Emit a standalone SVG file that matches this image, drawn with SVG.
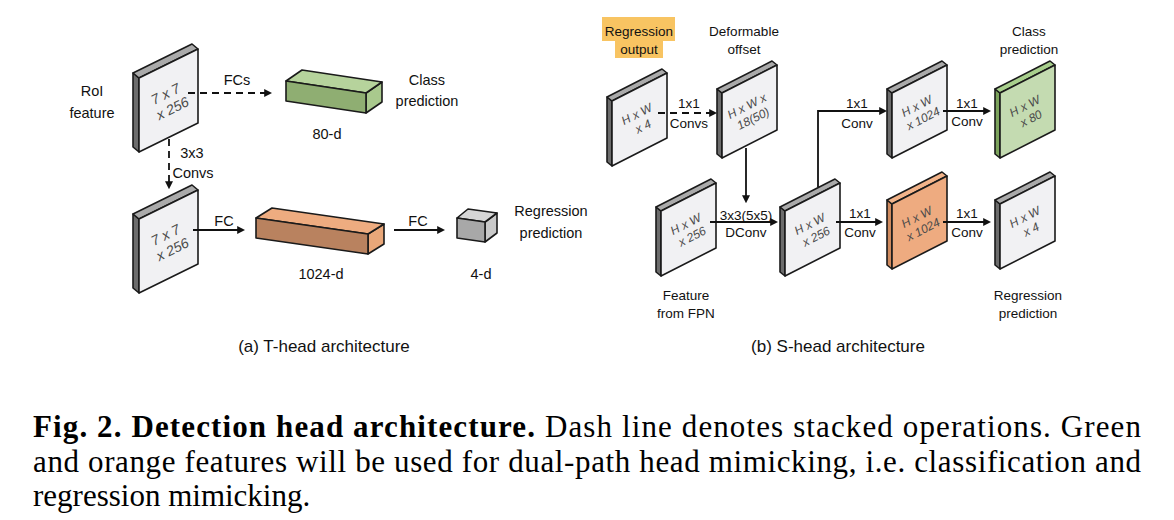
<svg xmlns="http://www.w3.org/2000/svg" width="1174" height="520" viewBox="0 0 1174 520">
<style>
.lbl{font-family:"Liberation Sans",Arial,sans-serif;font-size:14.5px;fill:#111;text-anchor:middle}
.sl{font-family:"Liberation Sans",Arial,sans-serif;font-size:13.5px;fill:#111;text-anchor:middle}
.cap{font-family:"Liberation Sans",Arial,sans-serif;font-size:17px;fill:#111;text-anchor:middle}
.pt{font-family:"Liberation Sans",Arial,sans-serif;font-style:italic;fill:#4a4a4a;text-anchor:middle}
.fig{font-family:"Liberation Serif","Times New Roman",serif;font-size:31px;fill:#000}
.e{stroke:#1a1a1a;stroke-width:1.6;stroke-linejoin:round}
.fw{fill:#f1f1f3}.sd{fill:#6c6c6c}.tp{fill:#aaaaaa}
.gf{fill:#c4dbb1}.gs{fill:#7ca35c}.gt{fill:#a8cf8c}
.of{fill:#eeab80}.os{fill:#cf8a5e}.ot{fill:#f3b48a}
.ln{fill:none;stroke:#111;stroke-width:1.8}
.dash{stroke-dasharray:7 5}
</style>
<defs>
<marker id="ah" viewBox="0 0 10 10" refX="1" refY="5" markerWidth="8" markerHeight="8" markerUnits="userSpaceOnUse" orient="auto"><path d="M0,0 L10,5 L0,10 z" fill="#111"/></marker>
</defs>
<rect width="1174" height="520" fill="#fff"/>

<!-- T-head -->
<g id="t_roi">
<polygon class="e sd" points="133,73 139,78 139,152 133,147"/>
<polygon class="e tp" points="133,73 192,44 198,49 139,78"/>
<polygon class="e fw" points="139,78 198,49 198,123 139,152"/>
<g transform="translate(169,101) rotate(-26)" class="pt" font-size="14"><text y="-3">7 x 7</text><text y="13">x 256</text></g>
<text class="lbl" x="92" y="96">RoI</text><text class="lbl" x="92" y="118">feature</text>
</g>
<g id="t_conv">
<polygon class="e sd" points="133,214 139,219 139,293 133,288"/>
<polygon class="e tp" points="133,214 192,185 198,190 139,219"/>
<polygon class="e fw" points="139,219 198,190 198,264 139,293"/>
<g transform="translate(169,242) rotate(-26)" class="pt" font-size="14"><text y="-3">7 x 7</text><text y="13">x 256</text></g>
</g>
<g id="t_class">
<polygon class="e" fill="#a9c98d" points="366,93 382,82 382,102 366,113"/>
<polygon class="e" fill="#b6d39c" points="286,81 302,70 382,82 366,93"/>
<polygon class="e" fill="#8fae72" points="286,81 366,93 366,113 286,101"/>
<text class="lbl" x="427" y="85">Class</text><text class="lbl" x="427" y="106">prediction</text>
<text class="lbl" x="327" y="139">80-d</text>
</g>
<g id="t_fc1024">
<polygon class="e" fill="#e9a779" points="368,234 384,224 384,244 368,254"/>
<polygon class="e" fill="#eeac80" points="256,218 272,208 384,224 368,234"/>
<polygon class="e" fill="#b9825f" points="256,218 368,234 368,254 256,238"/>
<text class="lbl" x="321" y="279">1024-d</text>
</g>
<g id="t_reg">
<polygon class="e" fill="#c9c9c9" points="485,222 497,213 497,233 485,242"/>
<polygon class="e" fill="#d6d6d6" points="457,218 468,209 497,213 485,222"/>
<polygon class="e" fill="#a8a8a8" points="457,218 485,222 485,242 457,238"/>
<text class="lbl" x="481" y="279">4-d</text>
<text class="lbl" x="551" y="216">Regression</text><text class="lbl" x="551" y="238">prediction</text>
</g>
<text class="cap" x="324" y="352">(a) T-head architecture</text>

<!-- S-head -->
<g id="s_regout">
<rect x="602" y="17" width="73" height="24" fill="#f8c462"/>
<rect x="615" y="40" width="48" height="18" fill="#f8c462"/>
<text class="sl" x="639" y="36">Regression</text><text class="sl" x="639" y="54">output</text>
<polygon class="e sd" points="607,97 612,101 612,166 607,162"/>
<polygon class="e tp" points="607,97 662,69 667,73 612,101"/>
<polygon class="e fw" points="612,101 667,73 667,138 612,166"/>
<g transform="translate(639.5,119.5) rotate(-27)" class="pt" font-size="12"><text y="-2">H x W</text><text y="12">x 4</text></g>
</g>
<g id="s_offset">
<text class="sl" x="744" y="36">Deformable</text><text class="sl" x="744" y="54">offset</text>
<polygon class="e sd" points="717,89 722,93 722,158 717,154"/>
<polygon class="e tp" points="717,89 772,61 777,65 722,93"/>
<polygon class="e fw" points="722,93 777,65 777,130 722,158"/>
<g transform="translate(749.5,111.5) rotate(-27)" class="pt" font-size="12"><text y="-2">H x W x</text><text y="12">18(50)</text></g>
</g>
<g id="s_fpn">
<polygon class="e sd" points="656,207 661,211 661,276 656,272"/>
<polygon class="e tp" points="656,207 711,179 716,183 661,211"/>
<polygon class="e fw" points="661,211 716,183 716,248 661,276"/>
<g transform="translate(688.5,229.5) rotate(-27)" class="pt" font-size="12"><text y="-2">H x W</text><text y="12">x 256</text></g>
<text class="sl" x="686" y="300">Feature</text><text class="sl" x="686" y="318">from FPN</text>
</g>
<g id="s_mid">
<polygon class="e sd" points="780,207 785,211 785,276 780,272"/>
<polygon class="e tp" points="780,207 835,179 840,183 785,211"/>
<polygon class="e fw" points="785,211 840,183 840,248 785,276"/>
<g transform="translate(812.5,229.5) rotate(-27)" class="pt" font-size="12"><text y="-2">H x W</text><text y="12">x 256</text></g>
</g>
<g id="s_cls1024">
<polygon class="e sd" points="887,89 892,93 892,158 887,154"/>
<polygon class="e tp" points="887,89 942,61 947,65 892,93"/>
<polygon class="e fw" points="892,93 947,65 947,130 892,158"/>
<g transform="translate(919.5,111.5) rotate(-27)" class="pt" font-size="12"><text y="-2">H x W</text><text y="12">x 1024</text></g>
</g>
<g id="s_cls80">
<text class="sl" x="1029" y="36">Class</text><text class="sl" x="1029" y="54">prediction</text>
<polygon class="e gs" points="995,89 1000,93 1000,158 995,154"/>
<polygon class="e gt" points="995,89 1050,61 1055,65 1000,93"/>
<polygon class="e gf" points="1000,93 1055,65 1055,130 1000,158"/>
<g transform="translate(1027.5,111.5) rotate(-27)" class="pt" font-size="12"><text y="-2">H x W</text><text y="12">x 80</text></g>
</g>
<g id="s_reg1024">
<polygon class="e os" points="887,200 892,204 892,269 887,265"/>
<polygon class="e ot" points="887,200 942,172 947,176 892,204"/>
<polygon class="e of" points="892,204 947,176 947,241 892,269"/>
<g transform="translate(919.5,222.5) rotate(-27)" class="pt" font-size="12"><text y="-2">H x W</text><text y="12">x 1024</text></g>
</g>
<g id="s_reg4">
<polygon class="e sd" points="995,200 1000,204 1000,269 995,265"/>
<polygon class="e tp" points="995,200 1050,172 1055,176 1000,204"/>
<polygon class="e fw" points="1000,204 1055,176 1055,241 1000,269"/>
<g transform="translate(1027.5,222.5) rotate(-27)" class="pt" font-size="12"><text y="-2">H x W</text><text y="12">x 4</text></g>
<text class="sl" x="1028" y="300">Regression</text><text class="sl" x="1028" y="318">prediction</text>
</g>
<text class="cap" x="838" y="352">(b) S-head architecture</text>

<g id="connectors">
<path class="ln dash" d="M188,93 H265" marker-end="url(#ah)"/>
<path class="ln dash" d="M169,139 V182" marker-end="url(#ah)"/>
<path class="ln" d="M193,230 H238" marker-end="url(#ah)"/>
<path class="ln" d="M394,230 H438" marker-end="url(#ah)"/>
<path class="ln dash" stroke-width="1.6" d="M658,113 H710" marker-end="url(#ah)"/>
<path class="ln" stroke-width="1.4" d="M746,148 V196" marker-end="url(#ah)"/>
<path class="ln" stroke-width="1.4" d="M710,222 H771" marker-end="url(#ah)"/>
<path class="ln" stroke-width="1.4" d="M818,187 V111 H880" marker-end="url(#ah)"/>
<path class="ln" stroke-width="1.4" d="M836,222 H876" marker-end="url(#ah)"/>
<path class="ln" stroke-width="1.4" d="M943,111 H984" marker-end="url(#ah)"/>
<path class="ln" stroke-width="1.4" d="M943,222 H984" marker-end="url(#ah)"/>
<text class="lbl" x="237" y="85">FCs</text>
<text class="lbl" x="192" y="158">3x3</text>
<text class="lbl" x="193" y="178">Convs</text>
<text class="lbl" x="224" y="226">FC</text>
<text class="lbl" x="418" y="226">FC</text>
<text class="sl" x="689" y="108">1x1</text><text class="sl" x="689" y="128">Convs</text>
<text class="sl" x="746" y="220" font-size="12.5">3x3(5x5)</text><text class="sl" x="746" y="237">DConv</text>
<text class="sl" x="857" y="108">1x1</text><text class="sl" x="857" y="128">Conv</text>
<text class="sl" x="860" y="218">1x1</text><text class="sl" x="860" y="237">Conv</text>
<text class="sl" x="967" y="108">1x1</text><text class="sl" x="967" y="126">Conv</text>
<text class="sl" x="967" y="218">1x1</text><text class="sl" x="967" y="237">Conv</text>
</g>

<g id="caption">
<text class="fig" x="33" y="437" textLength="1108" lengthAdjust="spacing"><tspan font-weight="bold">Fig. 2. Detection head architecture.</tspan> Dash line denotes stacked operations. Green</text>
<text class="fig" x="33" y="472" textLength="1108" lengthAdjust="spacing">and orange features will be used for dual-path head mimicking, i.e. classification and</text>
<text class="fig" x="33" y="506">regression mimicking.</text>
</g>
</svg>
